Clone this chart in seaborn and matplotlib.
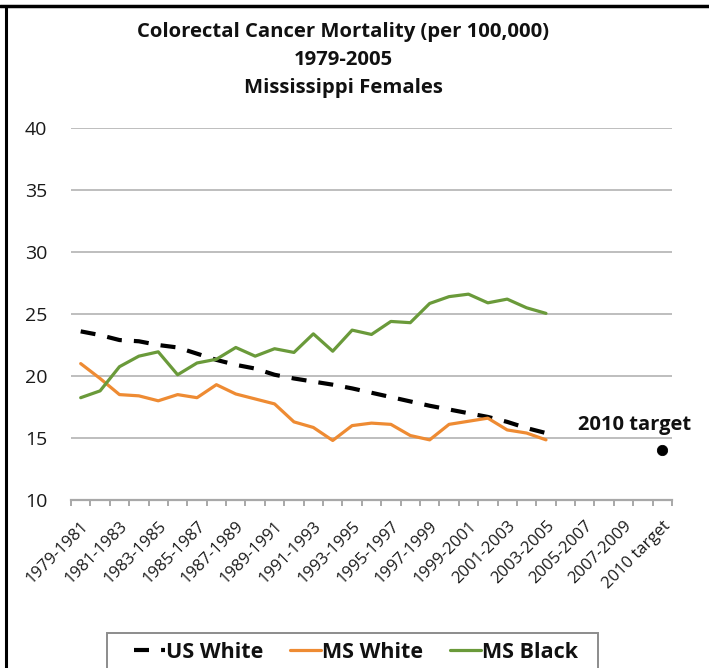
import matplotlib
matplotlib.use("Agg")
import matplotlib.pyplot as plt
from matplotlib.lines import Line2D
from matplotlib.patches import Rectangle
import seaborn as sns
import numpy as np
import pandas as pd

categories = ["1979-1981", "1980-1982", "1981-1983", "1982-1984", "1983-1985", "1984-1986",
              "1985-1987", "1986-1988", "1987-1989", "1988-1990", "1989-1991", "1990-1992",
              "1991-1993", "1992-1994", "1993-1995", "1994-1996", "1995-1997", "1996-1998",
              "1997-1999", "1998-2000", "1999-2001", "2000-2002", "2001-2003", "2002-2004",
              "2003-2005", "2004-2006", "2005-2007", "2006-2008", "2007-2009", "2008-2010",
              "2010 target"]

us_white = [23.6, 23.3, 22.9, 22.8, 22.5, 22.3, 21.8, 21.3, 20.9, 20.6, 20.1, 19.8, 19.55,
            19.3, 19.0, 18.65, 18.3, 17.95, 17.6, 17.3, 17.0, 16.7, 16.3, 15.8, 15.4]
ms_white = [21.0, 19.8, 18.5, 18.4, 18.0, 18.5, 18.25, 19.3, 18.55, 18.15, 17.75, 16.3, 15.85,
            14.8, 16.0, 16.2, 16.1, 15.2, 14.85, 16.1, 16.35, 16.6, 15.65, 15.4, 14.85]
ms_black = [18.25, 18.8, 20.75, 21.6, 21.95, 20.1, 21.05, 21.35, 22.3, 21.6, 22.2, 21.9, 23.4,
            22.0, 23.7, 23.35, 24.4, 24.3, 25.85, 26.4, 26.6, 25.9, 26.2, 25.5, 25.05]
target_category = "2010 target"
target_value = 14.0

series_names = ["US White", "MS White", "MS Black"]
series_values = [us_white, ms_white, ms_black]
colors = {"US White": "#000000", "MS White": "#EE8B33", "MS Black": "#6A9A3A"}

sns.set_theme(style="white")
plt.rcParams['font.family'] = ['Open Sans', 'DejaVu Sans']

rows = []
for name, vals in zip(series_names, series_values):
    for i, v in enumerate(vals):
        rows.append({"idx": i, "cat": categories[i], "value": v, "series": name})
df = pd.DataFrame(rows)

W, H = 709, 668
fig = plt.figure(figsize=(W / 100, H / 100), dpi=100)
ax = fig.add_axes([71 / W, 1 - 500 / H, (672 - 71) / W, (500 - 128) / H])

ax.set_ylim(10, 40)
ax.set_xlim(-0.5, len(categories) - 0.5)
ax.set_yticks([10, 15, 20, 25, 30, 35, 40])
ax.yaxis.grid(True, color="#BEBEBE", linewidth=1.4)
ax.set_axisbelow(True)

DASH = (3.6, 2.9)
for name in series_names:
    sub = df[df.series == name]
    if name == "US White":
        sns.lineplot(data=sub, x="idx", y="value", ax=ax, color=colors[name],
                     linewidth=3.0, legend=False)
        ax.lines[-1].set_dashes(DASH)
        ax.lines[-1].set_dash_capstyle("butt")
    else:
        sns.lineplot(data=sub, x="idx", y="value", ax=ax, color=colors[name],
                     linewidth=2.3, legend=False)

tidx = categories.index(target_category)
sns.scatterplot(x=[tidx], y=[target_value], ax=ax, color="black", s=55, edgecolor="black",
                legend=False, zorder=5)
ax.annotate("2010 target", xy=(tidx, target_value), xytext=(-28, 15),
            textcoords="offset pixels", ha="center", va="bottom",
            fontsize=14.5, fontweight="bold", color="#111111")

for s in ["top", "right", "left"]:
    ax.spines[s].set_visible(False)
ax.spines["bottom"].set_color("#A8A8A8")
ax.spines["bottom"].set_linewidth(1.6)

ax.set_xticks(np.arange(0, len(categories), 2))
ax.set_xticklabels(categories[::2], rotation=45, ha="right", va="top",
                   rotation_mode="anchor", fontsize=12, color="#1A1A1A")
ax.set_xticks(np.arange(-0.5, len(categories), 1), minor=True)
ax.tick_params(axis="x", which="major", length=0, pad=13)
ax.tick_params(axis="x", which="minor", length=4, width=1.4, color="#A8A8A8", bottom=True)
ax.tick_params(axis="y", length=0, pad=17, labelsize=14, labelcolor="#1A1A1A")
ax.set_xlabel("")
ax.set_ylabel("")

title_lines = ["Colorectal Cancer Mortality (per 100,000)", "1979-2005", "Mississippi Females"]
for txt, yb in zip(title_lines, [37, 65, 93]):
    fig.text(343 / W, 1 - yb / H, txt, ha="center", va="baseline",
             fontsize=14.6, fontweight="bold", color="#111111")

# legend box (frame drawn separately so it runs off the bottom edge like the reference)
fig.add_artist(Rectangle((107 / W, -20 / H), (598 - 107) / W, (20 + 668 - 633) / H,
                         transform=fig.transFigure, facecolor="white",
                         edgecolor="#8C8C8C", linewidth=1.4, zorder=1))
handles = [Line2D([], [], color="black", linewidth=3.0, dashes=DASH, dash_capstyle="butt"),
           Line2D([], [], color=colors["MS White"], linewidth=2.3),
           Line2D([], [], color=colors["MS Black"], linewidth=2.3)]
leg = fig.legend(handles, series_names, loc="center",
                 bbox_to_anchor=(356 / W, 1 - 652 / H),
                 ncol=3, frameon=False,
                 borderaxespad=0, handlelength=1.45, handletextpad=0.05,
                 columnspacing=1.25,
                 prop={"weight": "bold", "size": 15.5}, borderpad=0.0)
leg.set_zorder(2)
for t in leg.get_texts():
    t.set_color("#111111")

fig.add_artist(Line2D([0, 1], [1 - 5.5 / H, 1 - 5.5 / H], transform=fig.transFigure,
                      color="black", linewidth=2.5))
fig.add_artist(Line2D([6 / W, 6 / W], [0, 1 - 5.5 / H], transform=fig.transFigure,
                      color="black", linewidth=2.2))

fig.savefig("out.png", dpi=100)
